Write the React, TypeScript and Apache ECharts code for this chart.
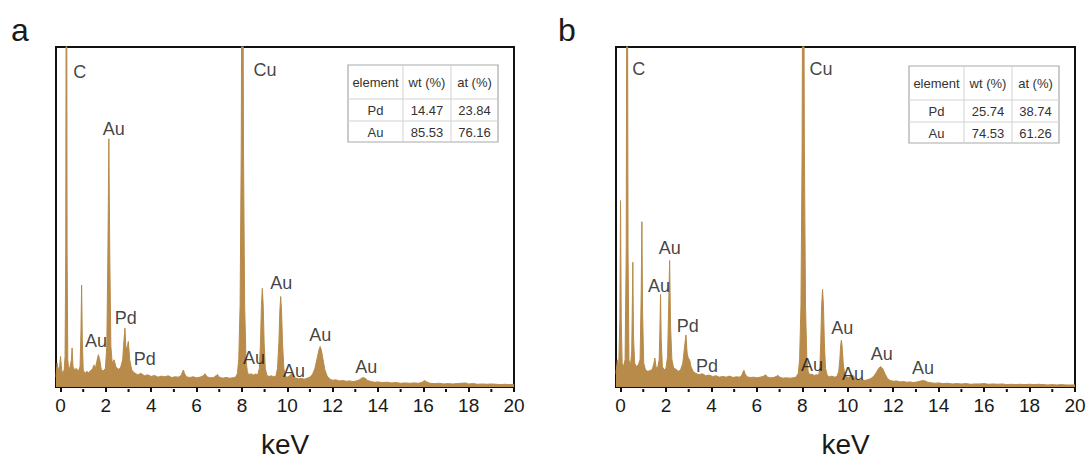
import React, { useEffect, useRef } from 'react';
import * as echarts from 'echarts';

const X_TICKS = [0, 2, 4, 6, 8, 10, 12, 14, 16, 18, 20];
const X_MINOR = [1, 3, 5, 7, 9, 11, 13, 15, 17, 19];

// EDS spectrum, panel a: [keV, intensity (% of plot height)]
const SPEC_A: [number, number][] = [
  [-0.2, 3], [-0.15, 7], [-0.1, 5], [-0.04, 6], [0.0, 9], [0.05, 5], [0.1, 4], [0.16, 5], [0.2, 9],
  [0.23, 40], [0.26, 180], [0.29, 40], [0.32, 8], [0.36, 5], [0.42, 6], [0.48, 8], [0.51, 11.5], [0.55, 6],
  [0.62, 5], [0.7, 5.5], [0.78, 4.5], [0.86, 6], [0.9, 16], [0.93, 30], [0.96, 14], [1.0, 5], [1.08, 4],
  [1.16, 4.6], [1.24, 4.2], [1.32, 4.8], [1.4, 5.2], [1.48, 6.5], [1.54, 5.5], [1.6, 7.5], [1.67, 9.5],
  [1.73, 8], [1.8, 5], [1.9, 4.8], [1.98, 5.5], [2.04, 12], [2.09, 40], [2.13, 73], [2.17, 40], [2.22, 12],
  [2.28, 7], [2.36, 8], [2.44, 6], [2.54, 5.2], [2.64, 5.5], [2.74, 8], [2.8, 14], [2.84, 17.3], [2.88, 12],
  [2.93, 11], [2.99, 13.4], [3.05, 8], [3.14, 5], [3.25, 4.2], [3.4, 3.6], [3.55, 4.0], [3.7, 3.3],
  [3.85, 3.6], [4.0, 3.1], [4.15, 3.4], [4.3, 2.9], [4.45, 3.2], [4.6, 3.0], [4.75, 3.3], [4.9, 2.8],
  [5.05, 3.0], [5.2, 2.9], [5.32, 3.4], [5.38, 4.5], [5.42, 5.0], [5.47, 4.0], [5.55, 3.0], [5.7, 2.8],
  [5.85, 3.0], [6.0, 2.7], [6.15, 2.9], [6.28, 3.2], [6.37, 3.9], [6.46, 3.0], [6.6, 2.7], [6.75, 2.8],
  [6.86, 3.3], [6.92, 3.7], [7.0, 2.9], [7.15, 2.6], [7.3, 2.8], [7.45, 2.6], [7.6, 2.7], [7.72, 2.9],
  [7.8, 4], [7.86, 8], [7.92, 24], [7.97, 70], [8.02, 180], [8.07, 70], [8.12, 24], [8.18, 8], [8.24, 4.5],
  [8.3, 3.6], [8.4, 3.9], [8.5, 3.5], [8.6, 3.8], [8.7, 3.6], [8.77, 5.5], [8.82, 13], [8.86, 24], [8.9, 29],
  [8.94, 24], [8.98, 13], [9.03, 5.5], [9.1, 3.4], [9.2, 3.1], [9.3, 3.3], [9.4, 3.0], [9.5, 3.2], [9.57, 5.5],
  [9.63, 13], [9.67, 22], [9.71, 26.6], [9.75, 22], [9.79, 13], [9.85, 5.5], [9.92, 3.1], [10.0, 2.9],
  [10.08, 3.2], [10.16, 3.7], [10.22, 3.9], [10.28, 3.2], [10.38, 2.6], [10.5, 2.4], [10.62, 2.5],
  [10.75, 2.3], [10.88, 2.6], [11.0, 2.9], [11.12, 3.8], [11.22, 5.5], [11.32, 8.5], [11.4, 11],
  [11.45, 11.9], [11.5, 11], [11.58, 8], [11.66, 5], [11.76, 3.2], [11.88, 2.3], [12.0, 2.0], [12.15, 2.1],
  [12.3, 1.8], [12.45, 1.9], [12.6, 1.7], [12.75, 1.8], [12.9, 1.6], [13.05, 1.8], [13.18, 2.1],
  [13.28, 2.6], [13.36, 2.8], [13.45, 2.5], [13.55, 1.9], [13.7, 1.6], [13.85, 1.4], [14.0, 1.5],
  [14.2, 1.3], [14.4, 1.4], [14.6, 1.2], [14.8, 1.3], [15.0, 1.1], [15.2, 1.2], [15.4, 1.1], [15.6, 1.2],
  [15.8, 1.1], [15.95, 1.4], [16.05, 1.9], [16.15, 1.5], [16.3, 1.1], [16.5, 1.0], [16.7, 1.1], [16.9, 0.9],
  [17.1, 1.0], [17.3, 0.9], [17.5, 1.0], [17.7, 1.1], [17.85, 1.2], [18.0, 0.9], [18.2, 1.0], [18.4, 0.8],
  [18.6, 0.9], [18.8, 0.8], [19.0, 0.9], [19.2, 0.8], [19.4, 0.7], [19.6, 0.8], [19.8, 0.7], [20.0, 0.7],
];

// EDS spectrum, panel b
const SPEC_B: [number, number][] = [
  [-0.2, 4], [-0.14, 8], [-0.08, 6], [-0.03, 20], [0.0, 54.8], [0.03, 20], [0.07, 7], [0.13, 6], [0.2, 8],
  [0.25, 40], [0.29, 180], [0.33, 40], [0.37, 8], [0.43, 6], [0.49, 10], [0.52, 25], [0.54, 36.7],
  [0.57, 15], [0.62, 7], [0.7, 6], [0.78, 6.5], [0.86, 8], [0.91, 28], [0.94, 48.6], [0.97, 22], [1.02, 7],
  [1.1, 5], [1.2, 4.6], [1.3, 4.8], [1.4, 5.2], [1.47, 7], [1.51, 8.5], [1.56, 6], [1.63, 5.5], [1.7, 8],
  [1.73, 16], [1.76, 27.2], [1.79, 14], [1.84, 6], [1.92, 5], [2.0, 5.5], [2.07, 9], [2.12, 24],
  [2.16, 37.2], [2.2, 18], [2.26, 8], [2.34, 5.5], [2.44, 5.2], [2.54, 4.6], [2.64, 5], [2.74, 7],
  [2.82, 12], [2.88, 15.3], [2.93, 10], [2.98, 8.5], [3.04, 8], [3.1, 6], [3.2, 4.5], [3.32, 4.0],
  [3.45, 3.6], [3.6, 3.9], [3.75, 3.3], [3.9, 3.5], [4.05, 3.1], [4.2, 3.3], [4.35, 2.9], [4.5, 3.1],
  [4.65, 2.9], [4.8, 3.2], [4.95, 2.8], [5.1, 3.0], [5.25, 2.9], [5.34, 3.5], [5.39, 4.4], [5.43, 4.9],
  [5.48, 3.9], [5.56, 3.0], [5.7, 2.8], [5.85, 2.9], [6.0, 2.7], [6.15, 2.9], [6.28, 3.1], [6.38, 3.6],
  [6.47, 2.9], [6.6, 2.7], [6.75, 2.8], [6.88, 3.2], [6.94, 3.4], [7.02, 2.8], [7.15, 2.6], [7.3, 2.7],
  [7.45, 2.6], [7.6, 2.7], [7.72, 2.9], [7.82, 4], [7.88, 8], [7.94, 24], [7.99, 70], [8.04, 180],
  [8.09, 70], [8.14, 24], [8.2, 8], [8.26, 4.5], [8.32, 3.6], [8.42, 3.8], [8.52, 3.4], [8.62, 3.6],
  [8.72, 3.5], [8.77, 5.5], [8.81, 13], [8.85, 24], [8.89, 28.7], [8.93, 24], [8.97, 13], [9.02, 5.5],
  [9.1, 3.3], [9.2, 3.0], [9.3, 3.2], [9.42, 2.9], [9.52, 3.1], [9.6, 4.5], [9.65, 8], [9.69, 12.5],
  [9.72, 13.8], [9.75, 12], [9.8, 7], [9.86, 4], [9.94, 2.9], [10.02, 2.7], [10.1, 3.0], [10.18, 3.3],
  [10.24, 3.4], [10.3, 2.8], [10.4, 2.2], [10.52, 2.0], [10.64, 2.1], [10.76, 1.9], [10.9, 2.2],
  [11.02, 2.5], [11.15, 3.2], [11.26, 4.3], [11.36, 5.5], [11.45, 6.0], [11.54, 5.4], [11.63, 4.0],
  [11.74, 2.6], [11.86, 1.9], [12.0, 1.7], [12.15, 1.8], [12.3, 1.5], [12.45, 1.6], [12.6, 1.4],
  [12.75, 1.5], [12.9, 1.3], [13.05, 1.5], [13.18, 1.7], [13.3, 1.9], [13.4, 1.8], [13.52, 1.4],
  [13.7, 1.2], [13.85, 1.1], [14.0, 1.2], [14.2, 1.0], [14.4, 1.1], [14.6, 0.9], [14.8, 1.0], [15.0, 0.9],
  [15.2, 1.0], [15.4, 0.8], [15.6, 0.9], [15.8, 0.9], [16.0, 1.0], [16.2, 0.8], [16.4, 0.9], [16.6, 0.8],
  [16.8, 0.9], [17.0, 0.7], [17.2, 0.8], [17.4, 0.7], [17.6, 0.8], [17.8, 0.7], [18.0, 0.8], [18.2, 0.7],
  [18.4, 0.8], [18.6, 0.7], [18.8, 0.6], [19.0, 0.7], [19.2, 0.6], [19.4, 0.7], [19.6, 0.6], [19.8, 0.6],
  [20.0, 0.6],
];

// Peak labels: [text, keV, intensity]
const PEAK_LABELS_A: [string, number, number][] = [
  ['C', 0.85, 92.7], ['Cu', 9.02, 93.3], ['Au', 2.35, 76], ['Au', 1.56, 13.5], ['Pd', 2.88, 20.2],
  ['Pd', 3.72, 8.2], ['Au', 8.53, 8.5], ['Au', 9.73, 30.7], ['Au', 10.3, 4.7], ['Au', 11.45, 15.2],
  ['Au', 13.48, 5.8],
];
const PEAK_LABELS_B: [string, number, number][] = [
  ['C', 0.8, 93.6], ['Cu', 8.82, 93.6], ['Au', 2.17, 41], ['Au', 1.69, 29.8], ['Pd', 2.96, 17.8],
  ['Pd', 3.8, 6.1], ['Au', 8.43, 6.4], ['Au', 9.76, 17.5], ['Au', 10.23, 3.8], ['Au', 11.5, 9.6],
  ['Au', 13.31, 5.6],
];

const TABLE_HEAD = ['element', 'wt (%)', 'at (%)'];
const TABLE_A = [['Pd', '14.47', '23.84'], ['Au', '85.53', '76.16']];
const TABLE_B = [['Pd', '25.74', '38.74'], ['Au', '74.53', '61.26']];

const FILL = '#b88b4a';
const INK = '#111';
const FONT = "'Liberation Sans', Arial, Helvetica, sans-serif";

function tableGraphic(x0: number, y0: number, rows: string[][]) {
  const colW = [55, 48, 47];
  const rowH = [34, 22, 21];
  const W = colW.reduce((a, b) => a + b, 0);
  const H = rowH.reduce((a, b) => a + b, 0);
  const els: any[] = [];
  els.push({
    type: 'rect', shape: { x: x0, y: y0, width: W, height: H },
    style: { fill: '#fff', stroke: '#a9a9a9', lineWidth: 1.2 }, z: 10,
  });
  let cx = x0;
  for (let i = 0; i < colW.length - 1; i++) {
    cx += colW[i];
    els.push({ type: 'line', shape: { x1: cx, y1: y0, x2: cx, y2: y0 + H }, style: { stroke: '#d2d2d2', lineWidth: 1 }, z: 11 });
  }
  let cy = y0;
  for (let j = 0; j < rowH.length - 1; j++) {
    cy += rowH[j];
    els.push({ type: 'line', shape: { x1: x0, y1: cy, x2: x0 + W, y2: cy }, style: { stroke: '#d2d2d2', lineWidth: 1 }, z: 11 });
  }
  const all = [TABLE_HEAD, ...rows];
  let ry = y0;
  all.forEach((row, j) => {
    let rx = x0;
    row.forEach((t, i) => {
      els.push({
        type: 'text', z: 12,
        style: {
          text: t, x: rx + colW[i] / 2, y: ry + rowH[j] / 2 + 0.5, align: 'center', verticalAlign: 'middle',
          fill: '#333', fontSize: 13, fontFamily: FONT,
        },
      });
      rx += colW[i];
    });
    ry += rowH[j];
  });
  return els;
}

export default function App() {
  const ref = useRef<HTMLDivElement>(null);
  useEffect(() => {
    if (!ref.current) return;
    const chart = echarts.init(ref.current, null, { renderer: 'svg' });
    const grids = [
      { left: 56, top: 47, width: 458, height: 342 },
      { left: 616, top: 47, width: 459, height: 342 },
    ];
    const xAxis: any[] = [];
    const yAxis: any[] = [];
    grids.forEach((_, i) => {
      xAxis.push({
        type: 'value', gridIndex: i, min: -0.2, max: 20,
        axisLine: { show: true, onZero: false, lineStyle: { color: INK, width: 2 } },
        axisTick: { show: true, customValues: X_TICKS, length: 5, lineStyle: { color: INK, width: 2 } },
        axisLabel: { show: true, customValues: X_TICKS, fontSize: 19, color: '#1a1a1a', margin: 9, fontFamily: FONT },
        splitLine: { show: false },
        name: 'keV', nameLocation: 'middle', nameGap: 43,
        nameTextStyle: { fontSize: 28, color: '#1a1a1a', fontFamily: FONT },
      });
      yAxis.push({
        type: 'value', gridIndex: i, min: 0, max: 100,
        axisLine: { show: true, onZero: false, lineStyle: { color: INK, width: 2 } },
        axisTick: { show: false }, axisLabel: { show: false }, splitLine: { show: false },
      });
    });
    const specs = [SPEC_A, SPEC_B];
    const labels = [PEAK_LABELS_A, PEAK_LABELS_B];
    const series: any[] = [];
    specs.forEach((spec, i) => {
      series.push({
        type: 'line', xAxisIndex: i, yAxisIndex: i, data: spec, symbol: 'none', showSymbol: false,
        clip: true, silent: true, lineStyle: { color: FILL, width: 1 }, areaStyle: { color: FILL, opacity: 1 }, z: 2,
      });
      series.push({
        type: 'scatter', xAxisIndex: i, yAxisIndex: i, symbolSize: 0, silent: true, z: 5,
        data: labels[i].map(([t, x, y]) => ({ name: t, value: [x, y] })),
        label: {
          show: true, position: 'inside', formatter: (p: any) => p.name,
          fontSize: 18, color: '#111', fontFamily: FONT,
        },
      });
    });
    const baseGraphic: any[] = [
      { type: 'text', style: { text: 'a', x: 11, y: 30, align: 'left', verticalAlign: 'middle', fontSize: 32, fill: '#1a1a1a', fontFamily: FONT } },
      { type: 'text', style: { text: 'b', x: 558, y: 30, align: 'left', verticalAlign: 'middle', fontSize: 32, fill: '#1a1a1a', fontFamily: FONT } },
      ...tableGraphic(348, 65, TABLE_A),
      ...tableGraphic(909, 66, TABLE_B),
    ];
    chart.setOption({
      animation: false,
      backgroundColor: '#fff',
      grid: grids.map((g) => ({ ...g, show: true, borderColor: INK, borderWidth: 2, backgroundColor: 'transparent' })),
      xAxis, yAxis, series,
      graphic: baseGraphic,
    });
    // minor ticks placed through the axis scale
    const minor: any[] = [];
    grids.forEach((g, i) => {
      const yb = g.top + g.height;
      X_MINOR.forEach((v) => {
        const px = chart.convertToPixel({ xAxisIndex: i }, v) as number;
        minor.push({ type: 'line', shape: { x1: px, y1: yb, x2: px, y2: yb + 3 }, style: { stroke: INK, lineWidth: 2 }, z: 20 });
      });
    });
    chart.setOption({ graphic: [...baseGraphic, ...minor] }, { replaceMerge: ['graphic'] });
    return () => chart.dispose();
  }, []);
  return <div ref={ref} style={{ position: 'fixed', left: 0, top: 0, width: 1091, height: 463, background: '#fff' }} />;
}
